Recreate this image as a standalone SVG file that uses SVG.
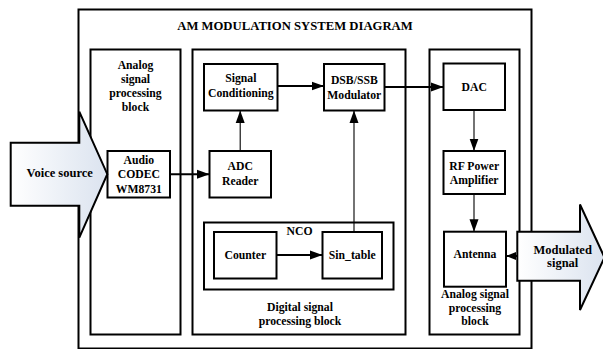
<svg xmlns="http://www.w3.org/2000/svg" width="603" height="349" viewBox="0 0 603 349">
  <defs>
    <linearGradient id="bigArrowFill" x1="0" y1="0" x2="1" y2="0">
      <stop offset="0" stop-color="#ffffff"/>
      <stop offset="1" stop-color="#dbe3ef"/>
    </linearGradient>
    <marker id="head" markerUnits="userSpaceOnUse" markerWidth="13" markerHeight="10" refX="12.5" refY="5" orient="auto">
      <path d="M0,0.5 L12.5,5 L0,9.5 z" fill="#000"/>
    </marker>
    <marker id="headSmall" markerUnits="userSpaceOnUse" markerWidth="11" markerHeight="9" refX="10" refY="4.5" orient="auto">
      <path d="M0,0.5 L10,4.5 L0,8.5 z" fill="#000"/>
    </marker>
    <style>
      .frame { fill: none; stroke: #000; stroke-width: 2; }
      .box { fill: #fff; stroke: #000; stroke-width: 2; }
      .big { fill: url(#bigArrowFill); stroke: #000; stroke-width: 2; stroke-linejoin: miter; }
      .t { font-family: "Liberation Serif", "Times New Roman", serif; font-weight: bold; font-size: 11.7px; fill: #000; text-anchor: middle; }
      .title { font-size: 12.7px; }
      .io { font-size: 12.5px; }
      .thick { fill: none; stroke: #000; stroke-width: 2; }
      .thin { fill: none; stroke: #000; stroke-width: 1.1; }
    </style>
  </defs>

  <!-- outer system frame and title -->
  <g id="system">
    <rect class="frame" x="78.5" y="9.5" width="453" height="339"/>
    <text class="t title" x="295" y="29.5">AM MODULATION SYSTEM DIAGRAM</text>
  </g>

  <!-- processing blocks -->
  <g id="analog-in-block">
    <rect class="frame" x="90.5" y="49.5" width="90" height="285"/>
    <text class="t" x="135.5" y="69">Analog</text>
    <text class="t" x="135.5" y="83">signal</text>
    <text class="t" x="135.5" y="97">processing</text>
    <text class="t" x="135.5" y="111">block</text>
  </g>
  <g id="digital-block">
    <rect class="frame" x="192.5" y="49.5" width="213" height="285"/>
    <text class="t" x="300" y="311">Digital signal</text>
    <text class="t" x="300" y="325">processing block</text>
  </g>
  <g id="analog-out-block">
    <rect class="frame" x="429.5" y="49.5" width="90" height="285"/>
    <text class="t" x="475" y="298">Analog signal</text>
    <text class="t" x="475" y="311.5">processing</text>
    <text class="t" x="475" y="325">block</text>
  </g>

  <!-- functional nodes -->
  <g id="audio-codec">
    <rect class="box" x="107.5" y="151" width="62.5" height="46.5"/>
    <text class="t" x="138.8" y="164">Audio</text>
    <text class="t" x="138.8" y="178.3">CODEC</text>
    <text class="t" x="138.8" y="192.5">WM8731</text>
  </g>
  <g id="adc-reader">
    <rect class="box" x="209.5" y="151" width="61.5" height="46.5"/>
    <text class="t" x="240.2" y="170">ADC</text>
    <text class="t" x="240.2" y="185">Reader</text>
  </g>
  <g id="signal-conditioning">
    <rect class="box" x="204" y="64" width="73.5" height="46.5"/>
    <text class="t" x="240.8" y="82.3">Signal</text>
    <text class="t" x="240.8" y="96.7">Conditioning</text>
  </g>
  <g id="modulator">
    <rect class="box" x="324" y="64" width="60.5" height="46.5"/>
    <text class="t" x="354.3" y="84.3">DSB/SSB</text>
    <text class="t" x="354.3" y="99">Modulator</text>
  </g>
  <g id="nco">
    <rect class="frame" x="204" y="222.5" width="189.5" height="67"/>
    <text class="t" x="299.5" y="234.5">NCO</text>
  </g>
  <g id="counter">
    <rect class="box" x="214" y="232" width="62.5" height="46.5"/>
    <text class="t" x="245.3" y="258.5">Counter</text>
  </g>
  <g id="sin-table">
    <rect class="box" x="322.5" y="232" width="59.5" height="46.5"/>
    <text class="t" x="352.2" y="258.5">Sin_table</text>
  </g>
  <g id="dac">
    <rect class="box" x="443.5" y="63.5" width="61.5" height="46.5"/>
    <text class="t" x="474.2" y="90.7">DAC</text>
  </g>
  <g id="rf-amplifier">
    <rect class="box" x="443.5" y="151" width="61.5" height="43"/>
    <text class="t" x="474.2" y="170">RF Power</text>
    <text class="t" x="474.2" y="184.3">Amplifier</text>
  </g>
  <g id="antenna">
    <rect class="box" x="444" y="231.7" width="62" height="55"/>
    <text class="t" x="475" y="257.7">Antenna</text>
  </g>

  <!-- connectors -->
  <g id="connectors">
    <line class="thick" x1="170" y1="174.3" x2="209.5" y2="174.3" marker-end="url(#head)"/>
    <line class="thin" x1="240.2" y1="151" x2="240.2" y2="110.5" marker-end="url(#head)"/>
    <line class="thick" x1="277.5" y1="86" x2="324" y2="86" marker-end="url(#head)"/>
    <line class="thick" x1="276.5" y1="255" x2="322.5" y2="255" marker-end="url(#head)"/>
    <line class="thin" x1="354" y1="232" x2="354" y2="110.5" marker-end="url(#head)"/>
    <line class="thick" x1="384.5" y1="87" x2="443.5" y2="87" marker-end="url(#head)"/>
    <line class="thin" x1="474" y1="110" x2="474" y2="151" marker-end="url(#head)"/>
    <line class="thin" x1="474" y1="194" x2="474" y2="231.7" marker-end="url(#head)"/>
    <line class="thick" x1="517.5" y1="256" x2="506" y2="256" marker-end="url(#headSmall)"/>
  </g>

  <!-- input and output block arrows -->
  <g id="voice-source">
    <path class="big" d="M10.7,142.7 L79.3,142.7 L79.3,111.7 L107.3,174.2 L79.3,237.7 L79.3,205.7 L10.7,205.7 z"/>
    <text class="t io" x="59.7" y="177.3">Voice source</text>
  </g>
  <g id="modulated-signal">
    <path class="big" d="M517.3,231.7 L580,231.7 L580,204.5 L604.5,257.5 L580,310 L580,280.7 L517.3,280.7 z"/>
    <text class="t io" x="562.7" y="254">Modulated</text>
    <text class="t io" x="562.7" y="267.3">signal</text>
  </g>
</svg>
